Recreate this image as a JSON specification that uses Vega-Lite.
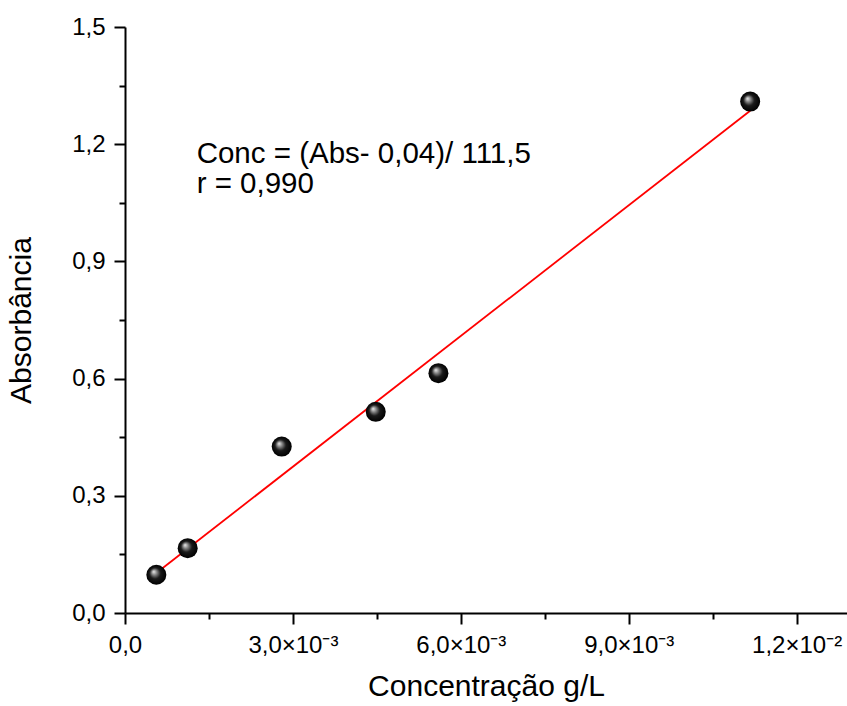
{
  "$schema": "https://vega.github.io/schema/vega-lite/v6.json",
  "width": 722,
  "height": 586,
  "autosize": "none",
  "padding": {"left": 125, "top": 27, "right": 0, "bottom": 93},
  "background": "white",
  "config": {
    "view": {"stroke": null},
    "font": "Liberation Sans",
    "axis": {
      "labelFont": "Liberation Sans",
      "labelFontSize": 24,
      "labelColor": "black",
      "titleFont": "Liberation Sans",
      "titleFontSize": 30,
      "titleFontWeight": "normal",
      "titleColor": "black"
    }
  },
  "datasets": {
    "pontos": [
      {"conc": 0.00056, "abs": 0.098},
      {"conc": 0.00112, "abs": 0.166},
      {"conc": 0.0028, "abs": 0.426},
      {"conc": 0.00448, "abs": 0.515},
      {"conc": 0.0056, "abs": 0.614},
      {"conc": 0.01117, "abs": 1.309}
    ],
    "ajuste": [
      {"conc": 0.00056, "abs": 0.1024},
      {"conc": 0.01117, "abs": 1.2855}
    ],
    "equacao": [
      {"conc": 0.00128, "abs": 1.153, "label": "Conc = (Abs- 0,04)/ 111,5"},
      {"conc": 0.00128, "abs": 1.075, "label": "r = 0,990"}
    ],
    "moldura": [
      {"abs": 1.5}
    ]
  },
  "encoding": {
    "x": {
      "field": "conc",
      "type": "quantitative",
      "scale": {"domain": [0, 0.0129], "nice": false, "zero": false},
      "axis": {
        "title": "Concentração g/L",
        "values": [0, 0.0015, 0.003, 0.0045, 0.006, 0.0075, 0.009, 0.0105, 0.012],
        "labelExpr": "datum.value === 0 ? '0,0' : datum.value === 0.003 ? '3,0×10⁻³' : datum.value === 0.006 ? '6,0×10⁻³' : datum.value === 0.009 ? '9,0×10⁻³' : datum.value === 0.012 ? '1,2×10⁻²' : ''",
        "tickSize": {"condition": {"test": "indexof([0, 0.003, 0.006, 0.009, 0.012], datum.value) >= 0", "value": 11}, "value": 6},
        "grid": false,
        "domainColor": "black",
        "domainWidth": 2,
        "tickColor": "black",
        "tickWidth": 2,
        "labelFontSize": 24,
        "labelPadding": 9,
        "labelFlush": false,
        "labelOverlap": false,
        "titlePadding": 14
      }
    },
    "y": {
      "field": "abs",
      "type": "quantitative",
      "scale": {"domain": [0, 1.5], "nice": false, "zero": false},
      "axis": {
        "title": "Absorbância",
        "values": [0, 0.15, 0.3, 0.45, 0.6, 0.75, 0.9, 1.05, 1.2, 1.35, 1.5],
        "labelExpr": "indexof([0, 0.3, 0.6, 0.9, 1.2, 1.5], datum.value) >= 0 ? replace(format(datum.value, '.1f'), '.', ',') : ''",
        "tickSize": {"condition": {"test": "indexof([0, 0.3, 0.6, 0.9, 1.2, 1.5], datum.value) >= 0", "value": 11}, "value": 6},
        "grid": false,
        "domainColor": "black",
        "domainWidth": 2,
        "tickColor": "black",
        "tickWidth": 2,
        "labelFontSize": 24,
        "labelPadding": 9,
        "labelFlush": false,
        "labelOverlap": false,
        "titlePadding": 35
      }
    }
  },
  "layer": [
    {
      "data": {"name": "moldura"},
      "mark": {"type": "rule", "color": "black", "strokeWidth": 2},
      "encoding": {
        "x": {"datum": 0},
        "x2": {"datum": 0.0129}
      }
    },
    {
      "data": {"name": "ajuste"},
      "mark": {"type": "line", "color": "#ff0000", "strokeWidth": 1.8},
      "encoding": {}
    },
    {
      "data": {"name": "pontos"},
      "mark": {
        "type": "circle",
        "size": 400,
        "opacity": 1,
        "color": {
          "gradient": "radial",
          "x1": 0.36, "y1": 0.34, "r1": 0,
          "x2": 0.5, "y2": 0.5, "r2": 0.5,
          "stops": [
            {"offset": 0, "color": "#f2f2f2"},
            {"offset": 0.25, "color": "#8a8a8a"},
            {"offset": 0.55, "color": "#1a1a1a"},
            {"offset": 1, "color": "#000000"}
          ]
        }
      },
      "encoding": {}
    },
    {
      "data": {"name": "equacao"},
      "mark": {"type": "text", "align": "left", "baseline": "alphabetic", "fontSize": 29.5, "font": "Liberation Sans", "color": "black"},
      "encoding": {"text": {"field": "label"}}
    }
  ]
}
